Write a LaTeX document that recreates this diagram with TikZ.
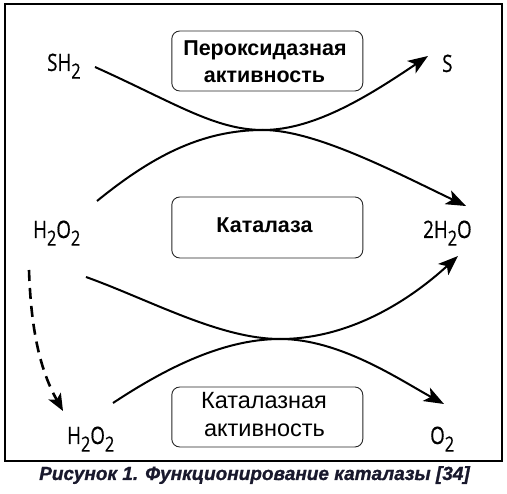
\documentclass[tikz,border=0pt]{standalone}
\usepackage{fontspec}
\setmainfont{Liberation Sans}
\newfontfamily\labfont[FakeStretch=0.78,FakeBold=0.5]{Open Sans}
\usetikzlibrary{arrows.meta}
\newcommand\chemsub[1]{\raisebox{-0.32em}{\fontsize{21}{21}\selectfont #1}}
\definecolor{capcol}{RGB}{25,25,45}
\begin{document}
\begin{tikzpicture}[x=1pt,y=-1pt,
  flow/.style={line width=2pt, -{Stealth[length=20pt,width=15pt,inset=5pt]}},
  dashflow/.style={line width=2.6pt, dash pattern=on 11pt off 7pt, -{Stealth[length=17pt,width=14pt,inset=4pt]}},
  box/.style={draw=black!85, line width=0.9pt, rounded corners=8pt, minimum width=191pt, inner sep=0pt},
  lab/.style={anchor=base west, inner sep=0pt, font=\labfont\fontsize{24}{24}\selectfont},
  btext/.style={anchor=base, inner sep=0pt, font=\bfseries\fontsize{21.5}{21.5}\selectfont},
  rtext/.style={anchor=base, inner sep=0pt, font=\fontsize{23.5}{23.5}\selectfont},
  captext/.style={anchor=base, inner sep=0pt, text=capcol, font=\bfseries\itshape\fontsize{19}{19}\selectfont\addfontfeatures{FakeBold=1}}
]
\useasboundingbox (0,0) rectangle (507,494);
\draw[line width=1.2pt] (5,4) rectangle (502,461);

% boxes
\node[box, minimum height=60pt] (box1) at (267.3,61) {};
\node[box, minimum height=61pt] (box2) at (267.3,227.5) {};
\node[box, minimum height=60pt] (box3) at (267.3,417) {};
\node[btext] (t1a) at (265,56) {Пероксидазная};
\node[btext] (t1b) at (264.5,83) {активность};
\node[btext] (t2) at (264.5,232.7) {Каталаза};
\node[rtext] (t3a) at (264,409) {Каталазная};
\node[rtext] (t3b) at (264.5,437) {активность};

% labels
\node[lab] (sh2) at (47,71) {SH\chemsub{2}};
\node[lab] (s) at (442,72) {S};
\node[lab] (h2o2a) at (33,238) {H\chemsub{2}O\chemsub{2}};
\node[lab] (h2o) at (423,238) {2H\chemsub{2}O};
\node[lab] (h2o2b) at (67,444) {H\chemsub{2}O\chemsub{2}};
\node[lab] (o2) at (430,444) {O\chemsub{2}};

% connector points
\coordinate (a0) at (95,67);
\coordinate (a1) at (428,56);
\coordinate (b0) at (97,201);
\coordinate (b1) at (466,206);
\coordinate (c0) at (86,277);
\coordinate (c1) at (458,256);
\coordinate (d0) at (113,403);
\coordinate (d1) at (444,404);
\coordinate (e0) at (29,270);
\coordinate (e1) at (63,411);
\coordinate (m1) at (263,130);
\coordinate (m2) at (280,339);

\draw[flow] (a0) .. controls (175,103) and (215,130) .. (m1) .. controls (315,130) and (370,95) .. (a1);
\draw[flow] (b0) .. controls (150,158) and (200,130) .. (m1) .. controls (315,130) and (395,172) .. (b1);
\draw[flow] (c0) .. controls (150,300) and (220,339) .. (m2) .. controls (350,339) and (410,300) .. (c1);
\draw[flow] (d0) .. controls (160,372) and (220,339) .. (m2) .. controls (340,339) and (400,380) .. (d1);
\draw[dashflow] (e0) .. controls (31,330) and (40,370) .. (e1);

\node[captext] (cap) at (254.5,480) {Рисунок 1. Функционирование каталазы [34]};
\end{tikzpicture}
\end{document}
